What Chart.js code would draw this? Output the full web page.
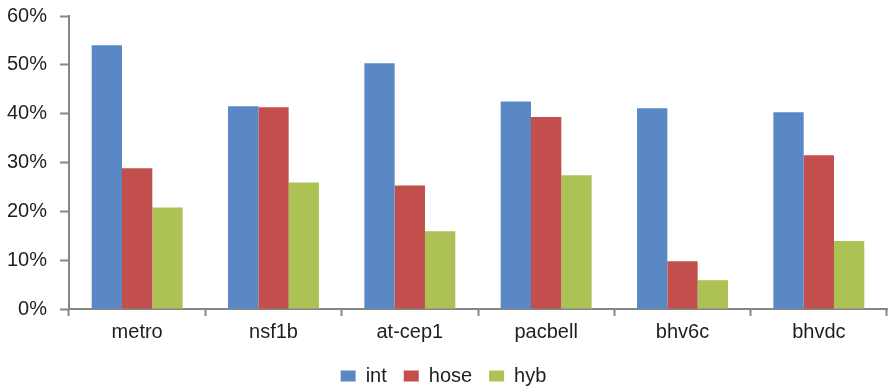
<!DOCTYPE html>
<html>
<head>
<meta charset="utf-8">
<script src="https://cdn.jsdelivr.net/npm/chart.js@4/dist/chart.umd.min.js"></script>
<style>
  html, body { margin: 0; padding: 0; background: #fff; }
  #wrap { width: 889px; height: 389px; position: relative; }
</style>
</head>
<body>
<div id="wrap"><canvas id="c" width="889" height="389"></canvas></div>
<script>
// Share of traffic per topology for each routing scheme (percent)
const categories = ['metro', 'nsf1b', 'at-cep1', 'pacbell', 'bhv6c', 'bhvdc'];
const intValues  = [54.0, 41.5, 50.3, 42.5, 41.1, 40.3];
const hoseValues = [28.8, 41.3, 25.3, 39.3, 9.8, 31.5];
const hybValues  = [20.8, 25.9, 15.9, 27.4, 5.9, 13.9];
const seriesNames = ['int', 'hose', 'hyb'];
const yTicks = [0, 10, 20, 30, 40, 50, 60];

const axisGrey = '#868686';
const textColor = '#1e1e1e';
const font = { family: '"Liberation Sans", Arial, Helvetica, sans-serif', size: 20 };

new Chart(document.getElementById('c'), {
  type: 'bar',
  data: {
    labels: categories,
    datasets: [
      { label: seriesNames[0], data: intValues,  backgroundColor: '#5A88C5' },
      { label: seriesNames[1], data: hoseValues, backgroundColor: '#C24F4B' },
      { label: seriesNames[2], data: hybValues,  backgroundColor: '#ADC254' }
    ]
  },
  options: {
    responsive: false,
    animation: false,
    devicePixelRatio: 1,
    layout: { padding: { top: 16, right: 2, left: 0, bottom: -7 } },
    datasets: { bar: { categoryPercentage: 0.667, barPercentage: 1.0 } },
    plugins: {
      tooltip: { enabled: false },
      legend: {
        position: 'bottom',
        labels: {
          color: textColor,
          font: font,
          boxWidth: 15,
          boxHeight: 11,
          padding: 17
        }
      }
    },
    scales: {
      x: {
        grid: {
          display: true,
          drawOnChartArea: false,
          drawTicks: true,
          tickLength: 7,
          tickWidth: 2,
          tickColor: axisGrey,
          offset: true
        },
        border: { display: true, color: axisGrey, width: 2 },
        ticks: { color: textColor, font: font, padding: 4 },
        afterFit: s => { s.height = 40; }
      },
      y: {
        min: 0,
        max: 60,
        afterBuildTicks: s => { s.ticks = yTicks.map(v => ({ value: v })); },
        grid: {
          display: true,
          drawOnChartArea: false,
          drawTicks: true,
          tickLength: 9,
          tickWidth: 2,
          tickColor: axisGrey
        },
        border: { display: true, color: axisGrey, width: 2 },
        ticks: {
          color: textColor,
          font: font,
          padding: 13,
          callback: v => v + '%'
        },
        afterFit: s => {
          s.width = 69;
          s.paddingTop = 0;
          s.paddingBottom = 0;
        }
      }
    }
  }
});
</script>
</body>
</html>
